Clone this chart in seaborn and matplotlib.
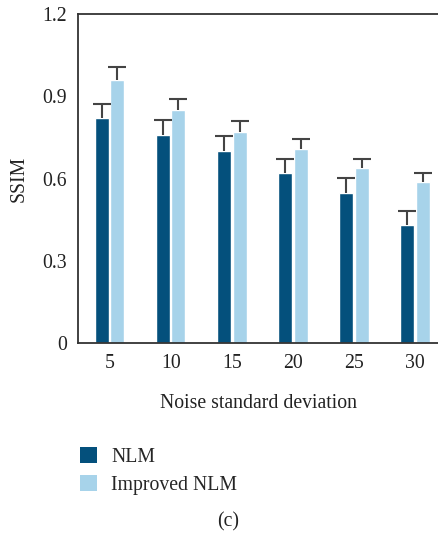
import matplotlib
matplotlib.use("Agg")
import matplotlib.pyplot as plt
import seaborn as sns
import pandas as pd
from matplotlib.patches import Patch

categories = ["5", "10", "15", "20", "25", "30"]
nlm = [0.821, 0.759, 0.701, 0.621, 0.548, 0.431]
nlm_err = [0.052, 0.056, 0.053, 0.052, 0.056, 0.052]
improved = [0.960, 0.850, 0.770, 0.708, 0.639, 0.588]
improved_err = [0.048, 0.041, 0.039, 0.038, 0.033, 0.032]
series = ["NLM", "Improved NLM"]
colors = ["#04507c", "#a7d3ea"]
yticks = [0, 0.3, 0.6, 0.9, 1.2]
ytick_labels = ["0", "0.3", "0.6", "0.9", "1.2"]

sns.set_theme(style="white")
plt.rcParams["font.family"] = ["Liberation Serif", "DejaVu Serif"]

df = pd.DataFrame({
    "cat": categories * 2,
    "val": nlm + improved,
    "series": [series[0]] * 6 + [series[1]] * 6,
})

W, H = 439, 537
FS = 14.2
TXT = "#222222"
fig = plt.figure(figsize=(W / 100, H / 100), dpi=100)
ax = fig.add_axes([78 / W, 1 - 343.3 / H, (W - 78) / W, 329.3 / H])

sns.barplot(data=df, x="cat", y="val", hue="series", palette=colors,
            width=0.508, gap=0.1, errorbar=None, legend=False, ax=ax,
            order=categories, hue_order=series, saturation=1)

# error bars (upward only) from bar geometry
for cont, errs in zip(ax.containers, [nlm_err, improved_err]):
    for bar, e in zip(cont, errs):
        cx = bar.get_x() + bar.get_width() / 2
        top = bar.get_height()
        ax.errorbar(cx, top, yerr=[[0], [e]], fmt="none", ecolor="#444444",
                    elinewidth=1.5, capsize=0, zorder=3)
        ax.plot(cx, top + e, marker="_", ms=13, mew=1.5, color="#444444",
                linestyle="none", zorder=3)

ax.set_xlim(-0.516, 5.39)
ax.set_ylim(0, 1.2)
ax.set_yticks(yticks)
ax.set_yticklabels(ytick_labels)
ax.tick_params(axis="both", length=0, labelsize=FS, colors=TXT)
ax.tick_params(axis="y", pad=8)
ax.tick_params(axis="x", pad=8)
ax.set_xlabel("Noise standard deviation", fontsize=FS, color=TXT, labelpad=15)
ax.set_ylabel("SSIM", fontsize=FS, color=TXT, labelpad=10)
for s in ["left", "bottom", "top"]:
    ax.spines[s].set_color("#333333")
    ax.spines[s].set_linewidth(1.3)
ax.spines["right"].set_visible(False)

handles = [Patch(facecolor=c, edgecolor="none") for c in colors]
fig.legend(handles, series, loc="upper left", bbox_to_anchor=(72 / W, 1 - 439 / H),
           frameon=False, fontsize=FS, handlelength=0.85, handleheight=0.85,
           handletextpad=0.75, labelspacing=0.45, borderaxespad=0)

fig.text(228 / W, 1 - 522 / H, "(c)", ha="center", va="center", fontsize=FS, color=TXT)

fig.savefig("out.png", dpi=100)
